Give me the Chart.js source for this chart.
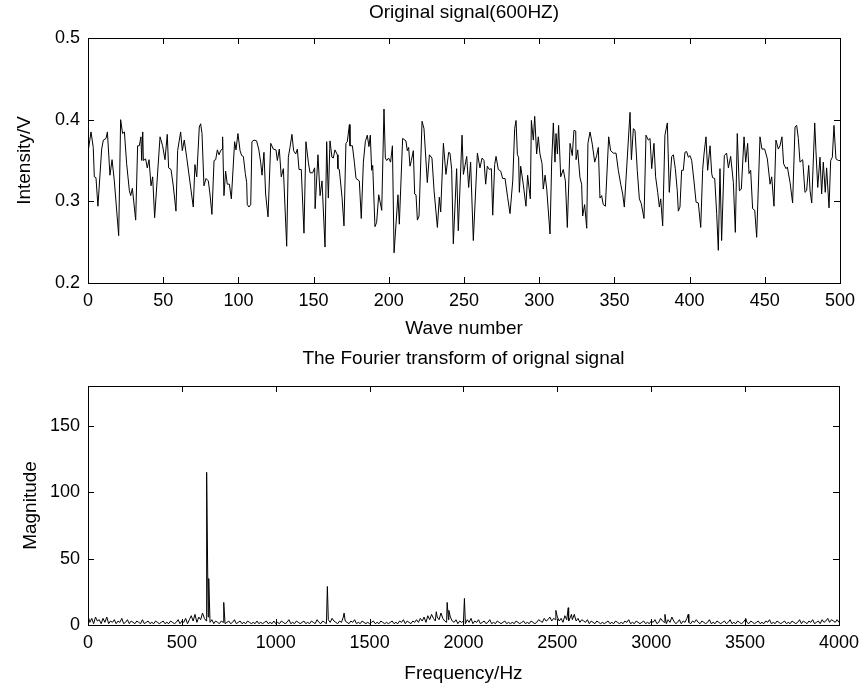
<!DOCTYPE html>
<html>
<head>
<meta charset="utf-8">
<script src="https://cdn.jsdelivr.net/npm/chart.js@4.4.1/dist/chart.umd.min.js"></script>
<style>
body { margin: 0; background: #fff; }
canvas { position: absolute; left: 0; }
#signal { top: 0; }
#spectrum { top: 346px; }
</style>
</head>
<body>
<canvas id="signal" width="866" height="346"></canvas>
<canvas id="spectrum" width="866" height="345"></canvas>
<script>
// top plot: raw signal
const waveNumber = [
  0, 2, 3.5, 4.2, 5.3, 6.6, 9.1, 10.2, 12, 12.9,
  14.6, 16, 17.5, 20.4, 21.7, 23, 24.2, 25.7, 27.5, 28.4,
  29.5, 31.7, 33, 34.1, 35.2, 35.7, 36.4, 36.8, 38.3, 39.4,
  40.6, 41.9, 43, 44.3, 47.9, 49.6, 51.2, 52.7, 53.6, 55.2,
  56.7, 58.5, 59.6, 61.6, 62.7, 64, 65.6, 66.9, 70, 71.1,
  72.3, 74, 74.9, 75.8, 77.1, 78.5, 80,
  81.1, 82.4, 83.8, 84.9, 86, 87.1, 88.2, 89.1, 89.5, 90.4,
  91.5, 92.6, 94, 95.3, 97.5, 98.4, 99.7, 101.1, 102.2, 103.3,
  104.6, 105.5, 105.9, 107, 108.2, 109, 110.4, 112.1, 113.5, 114.8,
  115.7, 117, 118.1, 119.7, 121.5, 123.2, 125, 125.9, 127.2, 128.5,
  129.9, 132.1, 133.2, 134.3, 135.6, 136.7, 138.1, 139.2, 140.3, 141.8,
  143.6, 144.9, 146.5, 147.6, 149.4, 150.7, 151, 152.9, 154.3, 155.6,
  157.6, 158.7,
  159.8, 160.9, 162.2, 163.1, 164.2, 165.8, 166.2, 167.1, 168.9, 170.2,
  171.5, 172.4, 173.8, 174.2, 175.8, 177.1, 178.2, 180.4, 181.7, 183.1,
  184.4, 185.7, 186.8, 187.7, 188.6, 189.3, 190.8, 191.9, 193.3, 195.3,
  196.8, 197.7, 198.6, 199.9, 201.2, 202.4, 203.5, 206.1, 207, 209.2,
  211.4, 212.3, 213.2, 214.1, 215, 216.3, 217.2, 218.1, 219, 220.1,
  222.1, 223.4, 225.6, 227, 228.7, 230.1, 232.3, 233.6, 234.5, 236.3,
  238, 239.8,
  240.7, 241.8, 242.9, 245.1, 246.2, 248.7, 249.6, 251.8, 253.1, 254.4,
  256.2, 258.9, 260.6, 262, 263.3, 264.4, 265.5, 266.8, 268.2, 269.1,
  270.4, 271.3, 272.8, 274.4, 275.7, 277.3, 279, 280.6, 282.4, 283.7,
  284.6, 285.5, 286.3, 286.8, 287.7, 289.4, 291.2, 292.3, 294.1, 294.8,
  296.1, 297, 298.3, 299.4, 300.5, 301.9, 302.7, 303.9, 305, 307.2,
  308.3, 309.4, 310.5, 311.2, 312.1, 312.9, 314.3, 316, 317.4, 318.7,
  320.5,
  322, 323.1, 324.3, 324.5, 325.6, 327.1, 328.2, 328.9, 330.2, 331.6,
  332.4, 333.8, 335.3, 336.9, 338.2, 339.3, 340.4, 341.5, 342.6, 344,
  346.2, 347.5, 349.3, 351.1, 352.6, 354.2, 355.5, 356.6, 358.2, 360.4,
  361.3, 362.6, 363.7, 365.2, 366.6, 367.9, 369.7, 371, 372.6, 373.7,
  374.8, 376.3, 377.4, 378.8, 379.9, 380.8, 382.1, 383.6, 385.2, 386.5,
  388.1, 389.2, 390.5, 391.8, 392.5, 393.6,
  394.7, 395.8, 396.9, 398, 399.2, 400.3, 401.4, 402.9, 404.3, 405.8,
  407.4, 408.7, 409.6, 410.9, 412, 413.6, 414.7, 415.3, 416.7, 418,
  419.1, 420.2, 421.3, 423.1, 424.6, 425.8, 427.3, 429.1, 430.4, 431.7,
  433.1, 434.4, 436.2, 437.3, 438.6, 439.5, 440.6, 441.9, 443.3, 444.6,
  446.8, 448.1, 449.9, 451.7, 453.5, 454.6, 456.1, 457.4, 459, 460.1,
  461.4, 462.5, 464.1, 465, 466.8, 468.5, 470.1, 471.2, 472.3, 473.4,
  475.2, 476.7, 477.8, 479.2, 480.1,
  481.2, 483.2, 484, 485.2, 486.7, 487.8, 488.9, 490.2, 491.1, 492.7,
  493.8, 494.9, 496, 497.3, 498.9, 500
];
const intensity = [
  .360, .385, .366, .330, .329, .294, .364, .375, .377, .385,
  .332, .351, .325, .258, .400, .383, .385, .346, .313, .307,
  .316, .277, .368, .368, .379, .350, .385, .350, .352, .341,
  .351, .319, .330, .280, .379, .368, .351, .382, .341, .339,
  .319, .288, .362, .385, .362, .375, .354, .336, .293, .345,
  .330, .391, .395, .383, .319, .328, .325,
  .309, .284, .350, .351, .363, .357, .362, .364, .379, .307,
  .337, .321, .321, .303, .373, .363, .383, .362, .356, .355,
  .334, .323, .296, .293, .296, .373, .375, .374, .364, .348,
  .332, .360, .309, .281, .371, .364, .363, .350, .364, .330,
  .340, .245, .354, .366, .382, .362, .358, .364, .339, .339,
  .261, .373, .348, .335, .335, .341, .291, .357, .307, .325,
  .244, .373,
  .304, .374, .354, .353, .363, .357, .340, .339, .305, .270,
  .371, .373, .394, .368, .368, .348, .328, .325, .279, .348,
  .373, .381, .367, .381, .338, .344, .269, .274, .308, .289,
  .413, .353, .350, .353, .348, .368, .237, .308, .272, .377,
  .374, .362, .366, .343, .350, .362, .309, .308, .277, .282,
  .398, .389, .323, .357, .353, .313, .268, .305, .287, .371,
  .333, .360,
  .359, .339, .248, .340, .264, .381, .333, .355, .317, .348,
  .252, .359, .341, .353, .350, .321, .343, .339, .340, .283,
  .345, .355, .339, .337, .328, .328, .305, .285, .325, .389,
  .399, .357, .354, .311, .343, .321, .294, .332, .303, .399,
  .375, .404, .358, .379, .358, .346, .315, .332, .315, .260,
  .348, .396, .348, .383, .358, .393, .330, .339, .325, .268,
  .371,
  .356, .387, .386, .351, .363, .329, .321, .282, .296, .267,
  .371, .385, .370, .348, .356, .366, .304, .307, .296, .294,
  .379, .362, .359, .359, .338, .321, .309, .293, .342, .409,
  .351, .389, .387, .338, .303, .297, .279, .381, .375, .377,
  .340, .371, .330, .311, .293, .303, .270, .381, .396, .311,
  .355, .357, .340, .313, .288, .293,
  .338, .338, .360, .361, .354, .356, .350, .325, .299, .298,
  .268, .339, .358, .379, .338, .368, .334, .329, .328, .285,
  .240, .340, .252, .356, .359, .341, .355, .323, .262, .383,
  .313, .315, .379, .348, .371, .334, .338, .291, .289, .256,
  .379, .364, .364, .352, .321, .330, .294, .375, .364, .368,
  .379, .346, .340, .342, .323, .298, .391, .393, .377, .348,
  .351, .311, .313, .344, .313,
  .298, .396, .362, .317, .354, .309, .348, .311, .341, .292,
  .350, .354, .393, .352, .350, .350
];

// bottom plot: spectrum, noise floor every 10 Hz plus the peaks
const freqStep = 10;
const noiseMag = [
  7, 2, 5, 1, 6, 3, 4, 1, 5, 2, 6, 1, 3, 2, 4, 1, 3, 2, 5, 1, 2, 4, 1, 3, 2,
  1, 3, 2, 1, 4, 1, 2, 3, 1, 2, 1, 3, 2, 1, 2, 3, 1, 2, 1, 3, 2, 1, 2, 4, 1,
  3, 2, 5, 1, 4, 7, 3, 8, 2, 6, 4, 9, 5, 3, 6, 2, 4, 1, 3, 2, 1, 3, 2, 1, 2,
  3, 1, 2, 4, 1, 2, 3, 1, 2, 1, 3, 2, 1, 2, 1, 3, 1, 2, 1, 2, 3, 1, 2, 1, 3,
  1, 2, 1, 3, 2, 1, 2, 4, 1, 2, 1, 3, 2, 1, 2, 3, 1, 2, 1, 3, 2, 1, 4, 2, 1,
  3, 2, 1, 4, 2, 5, 3, 2, 1, 3, 2, 6, 3, 2, 1, 3, 2, 4, 1, 2, 1, 3, 2, 1, 2,
  1, 2, 3, 1, 2, 1, 3, 2, 1, 2, 1, 2, 3, 1, 2, 1, 3, 2, 4, 1, 3, 2, 1, 3, 2,
  4, 2, 5, 3, 6, 2, 7, 4, 8, 5, 3, 6, 4, 9, 5, 3, 2, 4, 6, 3, 2, 4, 1, 3, 2,
  3, 1, 4, 2, 5, 1, 3, 2, 4, 1, 2, 3, 1, 2, 4, 1, 2, 1, 3, 2, 1, 2, 3, 1, 2,
  1, 2, 1, 3, 2, 1, 2, 3, 1, 2, 1, 3, 2, 1, 2, 4, 3, 2, 5, 3, 4, 6, 3, 5, 4,
  6, 3, 5, 2, 7, 4, 3, 6, 4, 8, 3, 5, 2, 4, 3, 2, 4, 1, 3, 2, 1, 3, 2, 1, 2,
  1, 2, 3, 1, 2, 1, 3, 2, 1, 2, 1, 3, 2, 4, 1, 2, 1, 3, 2, 1, 2, 3, 1, 2, 1,
  3, 2, 4, 1, 2, 5, 3, 2, 1, 4, 2, 6, 3, 1, 2, 4, 1, 3, 2, 5, 2, 1, 3, 2, 4,
  2, 1, 3, 2, 1, 2, 4, 1, 2, 1, 3, 2, 1, 2, 3, 1, 2, 4, 1, 2, 1, 3, 2, 1, 2,
  4, 2, 1, 3, 2, 1, 2, 3, 1, 2, 1, 3, 2, 4, 1, 2, 1, 3, 2, 1, 2, 3, 1, 2, 1,
  3, 2, 1, 2, 4, 1, 3, 2, 1, 3, 2, 4, 1, 2, 3, 1, 4, 2, 3, 5, 2, 4, 3, 2, 4,
  2
];
const peakFreq = [632, 643, 723, 1275, 1364, 1855, 1913, 1922, 2005, 2492, 2558, 2575, 3073, 3197, 3503];
const peakMag = [115, 35, 17, 29, 9, 10, 17, 11, 20, 11, 13, 8, 8, 8, 5];

const signalPoints = waveNumber.map((w, i) => ({ x: w, y: intensity[i] }));
const spectrumPoints = noiseMag.map((m, i) => ({ x: i * freqStep, y: m }))
  .concat(peakFreq.map((f, i) => ({ x: f, y: peakMag[i] })))
  .sort((a, b) => a.x - b.x);

const FONT = "'Liberation Sans', Arial, sans-serif";
Chart.defaults.font.family = FONT;
Chart.defaults.font.size = 18;
Chart.defaults.color = '#000';

// matlab style box with inward ticks on all four sides, title over the axes
const frame = {
  id: 'frame',
  afterDraw(chart, args, opts) {
    const { ctx, chartArea: a, scales } = chart;
    const t = 6;
    ctx.save();
    ctx.strokeStyle = '#000';
    ctx.lineWidth = 1;
    ctx.strokeRect(Math.round(a.left) + 0.5, Math.round(a.top) + 0.5, Math.round(a.right - a.left), Math.round(a.bottom - a.top));
    ctx.beginPath();
    scales.x.ticks.forEach(k => {
      const px = Math.round(scales.x.getPixelForValue(k.value)) + 0.5;
      ctx.moveTo(px, a.bottom); ctx.lineTo(px, a.bottom - t);
      ctx.moveTo(px, a.top); ctx.lineTo(px, a.top + t);
    });
    scales.y.ticks.forEach(k => {
      const py = Math.round(scales.y.getPixelForValue(k.value)) + 0.5;
      ctx.moveTo(a.left, py); ctx.lineTo(a.left + t, py);
      ctx.moveTo(a.right, py); ctx.lineTo(a.right - t, py);
    });
    ctx.stroke();
    ctx.fillStyle = '#000';
    ctx.font = '19px ' + FONT;
    ctx.textAlign = 'center';
    ctx.textBaseline = 'middle';
    ctx.fillText(opts.title, (a.left + a.right) / 2, a.top - opts.offset);
    ctx.restore();
  }
};

function axisX(min, max, step, label, height) {
  return {
    type: 'linear', min: min, max: max,
    ticks: { stepSize: step, padding: 7, maxRotation: 0, autoSkip: false, callback: v => String(v) },
    grid: { display: false, drawTicks: false },
    border: { display: false },
    title: { display: true, text: label, font: { size: 19 }, padding: { top: 0, bottom: 6 } },
    afterFit: s => { s.height = height; }
  };
}

function axisY(min, max, step, label, titleGap, fmt) {
  return {
    min: min, max: max,
    ticks: { stepSize: step, padding: 8, includeBounds: false, callback: fmt },
    grid: { display: false, drawTicks: false },
    border: { display: false },
    title: { display: true, text: label, font: { size: 19 }, padding: { top: titleGap, bottom: 0 } },
    afterFit: s => { s.width = 88; }
  };
}

new Chart(document.getElementById('signal'), {
  type: 'line',
  data: {
    datasets: [{
      data: signalPoints,
      borderColor: '#000',
      borderWidth: 1,
      pointRadius: 0,
      tension: 0
    }]
  },
  options: {
    responsive: false,
    animation: false,
    devicePixelRatio: 1,
    layout: { padding: { top: 38, right: 26, left: 0, bottom: 0 } },
    plugins: {
      legend: { display: false },
      tooltip: { enabled: false },
      frame: { title: 'Original signal(600HZ)', offset: 25 }
    },
    scales: {
      x: axisX(0, 500, 50, 'Wave number', 63),
      y: axisY(0.2, 0.5, 0.1, 'Intensity/V', 13, v => v.toFixed(1))
    }
  },
  plugins: [frame]
});

new Chart(document.getElementById('spectrum'), {
  type: 'line',
  data: {
    datasets: [{
      data: spectrumPoints,
      borderColor: '#000',
      borderWidth: 1,
      pointRadius: 0,
      tension: 0
    }]
  },
  options: {
    responsive: false,
    animation: false,
    devicePixelRatio: 1,
    layout: { padding: { top: 40, right: 26, left: 0, bottom: 0 } },
    plugins: {
      legend: { display: false },
      tooltip: { enabled: false },
      frame: { title: 'The Fourier transform of orignal signal', offset: 27 }
    },
    scales: {
      x: axisX(0, 4000, 500, 'Frequency/Hz', 66),
      y: axisY(0, 180, 50, 'Magnitude', 19, v => String(v))
    }
  },
  plugins: [frame]
});
</script>
</body>
</html>
